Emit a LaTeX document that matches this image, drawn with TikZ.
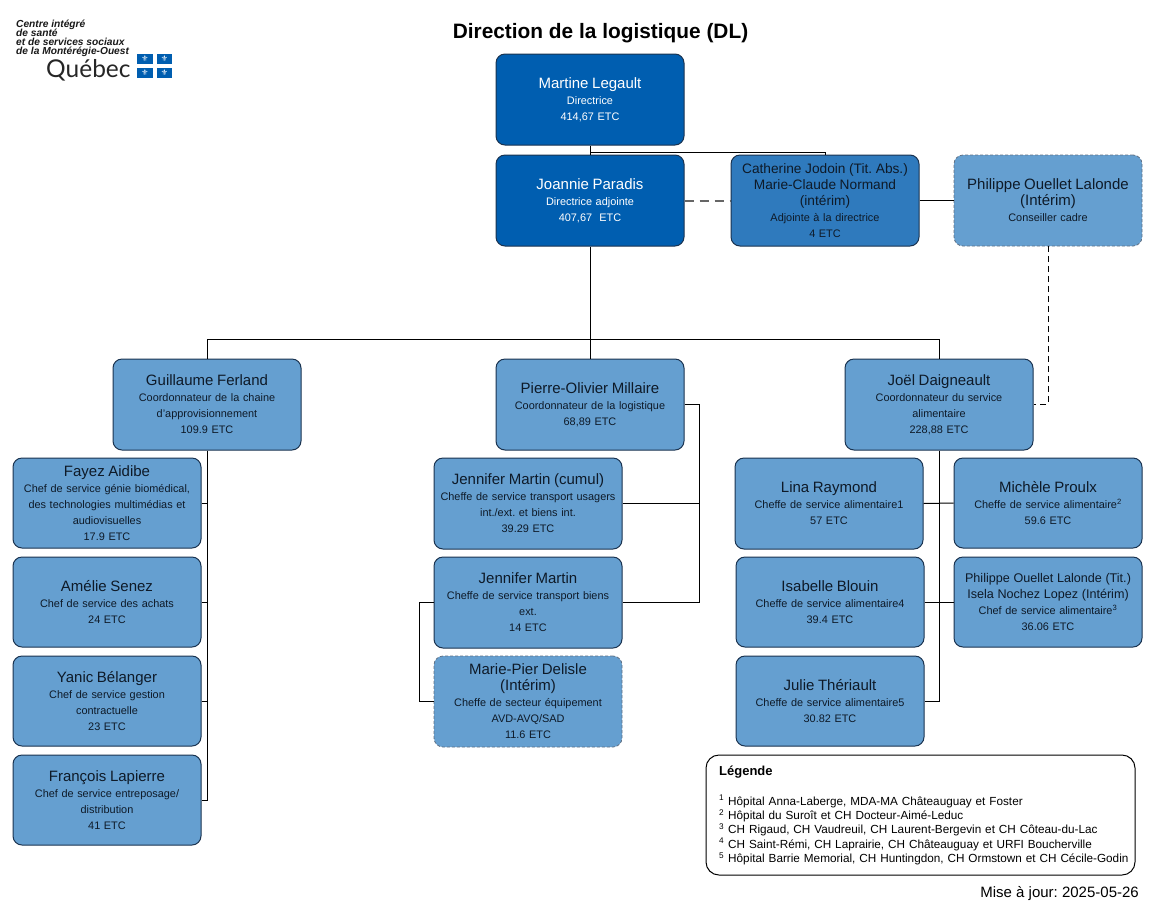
\documentclass[tikz,border=0pt]{standalone}
\usepackage{fontspec}
\setmainfont{Liberation Sans}
\newfontfamily\logofont{Lato}
\newfontfamily\symfont{DejaVu Sans}
\definecolor{cdark}{HTML}{005EB0}
\definecolor{cmid}{HTML}{2F7ABD}
\definecolor{clight}{HTML}{659FD0}
\definecolor{cedge}{HTML}{1A3350}
\definecolor{ctext}{HTML}{0E1A28}
\frenchspacing
\newcommand{\nm}[1]{{\fontsize{15}{16}\selectfont #1}}
\newcommand{\nmb}[1]{{\fontsize{13.7}{16}\selectfont #1}}
\newcommand{\nmc}[1]{{\fontsize{12.6}{16}\selectfont #1}}
\tikzset{
  x=1pt,y=-1pt,
  orgbox/.style={draw=cedge,line width=1pt,rounded corners=9pt,minimum width=188pt,minimum height=91pt,
    text width=186pt,inner sep=0pt,align=center,text=ctext,font=\fontsize{10.9}{16}\selectfont},
  lightbox/.style={orgbox,fill=clight},
  midbox/.style={orgbox,fill=cmid},
  darkbox/.style={orgbox,fill=cdark,text=white},
  tempbox/.style={orgbox,fill=clight,draw=cedge!70!white,densely dashed,line width=.8pt},
  link/.style={draw=black,line width=1pt},
  greylink/.style={draw=black!60,line width=2pt,dash pattern=on 9pt off 6pt},
  dashlink/.style={draw=black,line width=1pt,dash pattern=on 6pt off 4pt},
  flagbox/.style={fill=cdark,minimum width=15.5pt,minimum height=10pt,inner sep=0pt,text=white,font=\symfont\fontsize{8}{8}\selectfont},
  logoline/.style={anchor=base west,inner sep=0pt,font=\fontsize{10.2}{10}\selectfont\bfseries\itshape,text=black!90},
}
\begin{document}
\begin{tikzpicture}
\useasboundingbox (0,0) rectangle (1161,903);
\fill[white] (0,0) rectangle (1161,903);

% logo
\node[logoline] (l1) at (16,27) {Centre intégré};
\node[logoline] (l2) at (16,36) {de santé};
\node[logoline] (l3) at (16,45) {et de services sociaux};
\node[logoline] (l4) at (16,54.5) {de la Montérégie-Ouest};
\node[anchor=base west,inner sep=0pt,font=\logofont\fontsize{24.5}{25}\selectfont,text=black!85] (qc) at (46,77) {Québec};
\node[flagbox] (f1) at (145,59) {⚜};
\node[flagbox] (f2) at (164.5,59) {⚜};
\node[flagbox] (f3) at (145,73) {⚜};
\node[flagbox] (f4) at (164.5,73) {⚜};

% title
\node[font=\fontsize{20.85}{22}\selectfont\bfseries,inner sep=0pt] (title) at (600.5,33) {Direction de la logistique (DL)};

% top
\node[darkbox] (martine) at (590,99.5) {\nm{Martine Legault}\\Directrice\\414,67 ETC};
\node[darkbox] (joannie) at (590,200.5) {\nm{Joannie Paradis}\\Directrice adjointe\\407,67\ \ ETC};
\node[midbox] (catherine) at (825,200.5) {\nmb{Catherine Jodoin (Tit. Abs.)}\\\nmb{Marie-Claude Normand}\\\nmb{(intérim)}\\Adjointe à la directrice\\4 ETC};
\node[tempbox] (philippe) at (1048,200.5) {\nm{Philippe Ouellet Lalonde}\\\nm{(Intérim)}\\Conseiller cadre};

% coordinators
\node[lightbox] (guillaume) at (207,404.5) {\nm{Guillaume Ferland}\\Coordonnateur de la chaine\\d'approvisionnement\\109.9 ETC};
\node[lightbox] (pierre) at (590,404.5) {\nm{Pierre-Olivier Millaire}\\Coordonnateur de la logistique\\68,89 ETC};
\node[lightbox] (joel) at (939,404.5) {\nm{Joël Daigneault}\\Coordonnateur du service\\alimentaire\\228,88 ETC};

% left column
\node[lightbox,minimum height=90pt] (fayez) at (107,503) {\nm{Fayez Aidibe}\\Chef de service génie biomédical,\\des technologies multimédias et\\audiovisuelles\\17.9 ETC};
\node[lightbox,minimum height=90pt] (amelie) at (107,602) {\nm{Amélie Senez}\\Chef de service des achats\\24 ETC};
\node[lightbox,minimum height=90pt] (yanic) at (107,701) {\nm{Yanic Bélanger}\\Chef de service gestion\\contractuelle\\23 ETC};
\node[lightbox,minimum height=90pt] (francois) at (107,800) {\nm{François Lapierre}\\Chef de service entreposage/\\distribution\\41 ETC};

% centre column
\node[lightbox] (cumul) at (528,503.5) {\nm{Jennifer Martin (cumul)}\\Cheffe de service transport usagers\\int./ext. et biens int.\\39.29 ETC};
\node[lightbox] (jennifer) at (528,602.5) {\nm{Jennifer Martin}\\Cheffe de service transport biens\\ext.\\14 ETC};
\node[tempbox] (mariepier) at (528,701.5) {\nm{Marie-Pier Delisle}\\\nm{(Intérim)}\\Cheffe de secteur équipement\\AVD-AVQ/SAD\\11.6 ETC};

% right columns
\node[lightbox] (lina) at (829,503.5) {\nm{Lina Raymond}\\Cheffe de service alimentaire1\\57 ETC};
\node[lightbox,minimum height=90pt] (michele) at (1048,503) {\nm{Michèle Proulx}\\Cheffe de service alimentaire\textsuperscript{2}\\59.6 ETC};
\node[lightbox,minimum height=90pt] (isabelle) at (830,602) {\nm{Isabelle Blouin}\\Cheffe de service alimentaire4\\39.4 ETC};
\node[lightbox,minimum height=90pt] (philippet) at (1048,602) {\nmc{Philippe Ouellet Lalonde (Tit.)}\\\nmc{Isela Nochez Lopez (Intérim)}\\Chef de service alimentaire\textsuperscript{3}\\36.06 ETC};
\node[lightbox,minimum height=90pt] (julie) at (830,701) {\nm{Julie Thériault}\\Cheffe de service alimentaire5\\30.82 ETC};

% legend
\node[draw=black,line width=1pt,rounded corners=13pt,minimum width=429pt,minimum height=120pt,inner sep=0pt] (legend) at (920.5,815) {};
\node[anchor=base west,inner sep=0pt,font=\fontsize{13}{15}\selectfont\bfseries] (legendtitle) at (719,775) {Légende};
\node[anchor=north west,inner sep=0pt,text width=420pt,align=left,font=\fontsize{11.75}{14.3}\selectfont] (legendtext) at (719,795)
 {\textsuperscript{1} Hôpital Anna-Laberge, MDA-MA Châteauguay et Foster\\
  \textsuperscript{2} Hôpital du Suroît et CH Docteur-Aimé-Leduc\\
  \textsuperscript{3} CH Rigaud, CH Vaudreuil, CH Laurent-Bergevin et CH Côteau-du-Lac\\
  \textsuperscript{4} CH Saint-Rémi, CH Laprairie, CH Châteauguay et URFI Boucherville\\
  \textsuperscript{5} Hôpital Barrie Memorial, CH Huntingdon, CH Ormstown et CH Cécile-Godin};
\node[anchor=base east,inner sep=0pt,font=\fontsize{15}{17}\selectfont] (update) at (1139,897) {Mise à jour: 2025-05-26};

% connectors
\coordinate (topbar) at (590,152);
\coordinate (midbar) at (590,339);
\draw[link] (martine.south) -- (joannie.north);
\draw[link] (topbar) -| (catherine.north);
\draw[greylink] (joannie.east) -- (catherine.west);
\draw[link] (catherine.east) -- (philippe.west);
\draw[dashlink] (philippe.south) |- (joel.east);
\draw[link] (joannie.south) -- (pierre.north);
\draw[link] (midbar) -| (guillaume.north);
\draw[link] (midbar) -| (joel.north);

\draw[link] (guillaume.south) |- (francois.east);
\draw[link] (fayez.east) -- (fayez.east -| guillaume.south);
\draw[link] (amelie.east) -- (amelie.east -| guillaume.south);
\draw[link] (yanic.east) -- (yanic.east -| guillaume.south);

\coordinate (pbus) at (699,404.5);
\draw[link] (pierre.east) -- (pbus) |- (jennifer.east);
\draw[link] (cumul.east) -- (cumul.east -| pbus);
\coordinate (jbus) at (419,602.5);
\draw[link] (jennifer.west) -- (jbus) |- (mariepier.west);

\draw[link] (joel.south) |- (julie.east);
\draw[link] (lina.east) -- (michele.west);
\draw[link] (isabelle.east) -- (philippet.west);
\end{tikzpicture}
\end{document}
